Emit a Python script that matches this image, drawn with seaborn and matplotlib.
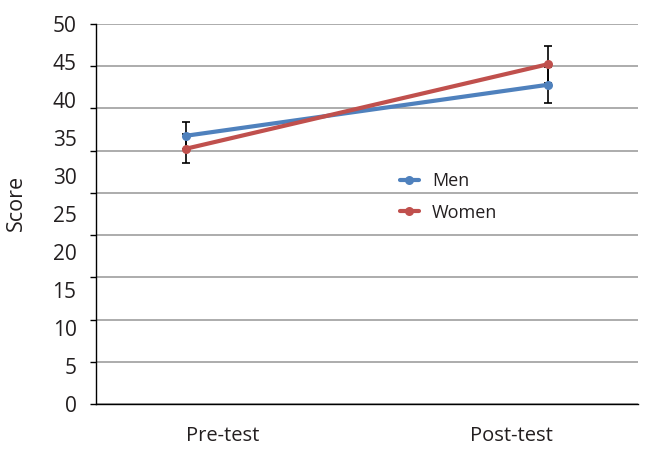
import numpy as np
import pandas as pd
import matplotlib
matplotlib.use("Agg")
import matplotlib.pyplot as plt
import seaborn as sns

# Data
phases = ["Pre-test", "Post-test"]
men_scores = [35.3, 42.0]
women_scores = [33.6, 44.7]
men_err = [1.8, 2.4]
women_err = [1.9, 2.4]
y_labels = ["0", "5", "10", "15", "20", "25", "30", "35", "40", "45", "50"]

sns.set_theme(style="white")
plt.rcParams["font.family"] = ["Open Sans", "DejaVu Sans"]

df = pd.DataFrame({
    "Phase": phases * 2,
    "Score": men_scores + women_scores,
    "Group": ["Men"] * 2 + ["Women"] * 2,
})

blue = "#4F81BD"
red = "#C0504D"
palette = {"Men": blue, "Women": red}
txt = "#231f20"

fig = plt.figure(figsize=(6.52, 4.54), dpi=100)
ax = fig.add_axes([96 / 652, 1 - 404 / 454, (638 - 96) / 652, (404 - 24) / 454])

# Gridlines (9 evenly spaced intervals, as in the original)
grid_pos = np.linspace(0, 50, 10)
ax.set_yticks(grid_pos)
ax.set_yticklabels([])
ax.yaxis.grid(True, color="#a6a6a6", linewidth=1.3)
ax.set_axisbelow(True)
ax.tick_params(axis="y", which="major", left=True, length=4, width=1, color="black")

# Labels placed evenly at 0..50
ax.yaxis.remove_overlapping_locs = False
ax.set_yticks(np.arange(0, 51, 5), minor=True)
ax.set_yticklabels(y_labels, minor=True, fontsize=15, color=txt)
ax.tick_params(axis="y", which="minor", length=0, pad=14)

# Error bars
xpos = np.arange(len(phases))
ax.errorbar(xpos, men_scores, yerr=men_err, fmt="none", ecolor="black",
            elinewidth=1.2, capsize=3, capthick=1.2, zorder=2)
ax.errorbar(xpos, women_scores, yerr=women_err, fmt="none", ecolor="black",
            elinewidth=1.2, capsize=3, capthick=1.2, zorder=2)

sns.lineplot(data=df, x="Phase", y="Score", hue="Group", palette=palette,
             marker="o", markersize=6.5, markeredgewidth=0, linewidth=3,
             ax=ax, zorder=3, sort=False)

ax.set_xlim(-0.25, 1.25)
ax.set_ylim(0, 50)
# category labels sit inward of the points, as in the original
ax.set_xticks([0.1, 0.9])
ax.set_xticklabels(phases)
ax.set_xlabel("")
ax.set_ylabel("Score", fontsize=15.5, color=txt)
ax.yaxis.set_label_coords(-0.128, 0.53)
ax.tick_params(axis="x", bottom=False, labelsize=14.5, labelcolor=txt, pad=10)

for s in ["top", "right"]:
    ax.spines[s].set_visible(False)
ax.spines["left"].set_color("black")
ax.spines["bottom"].set_color("black")
ax.spines["left"].set_linewidth(1)
ax.spines["bottom"].set_linewidth(1)

leg = ax.legend(loc="center left", bbox_to_anchor=(0.53, 0.545), frameon=False,
                fontsize=13, handlelength=1.1, labelspacing=0.75, handletextpad=0.7)
for t in leg.get_texts():
    t.set_color(txt)

fig.savefig("out.png", dpi=100)
